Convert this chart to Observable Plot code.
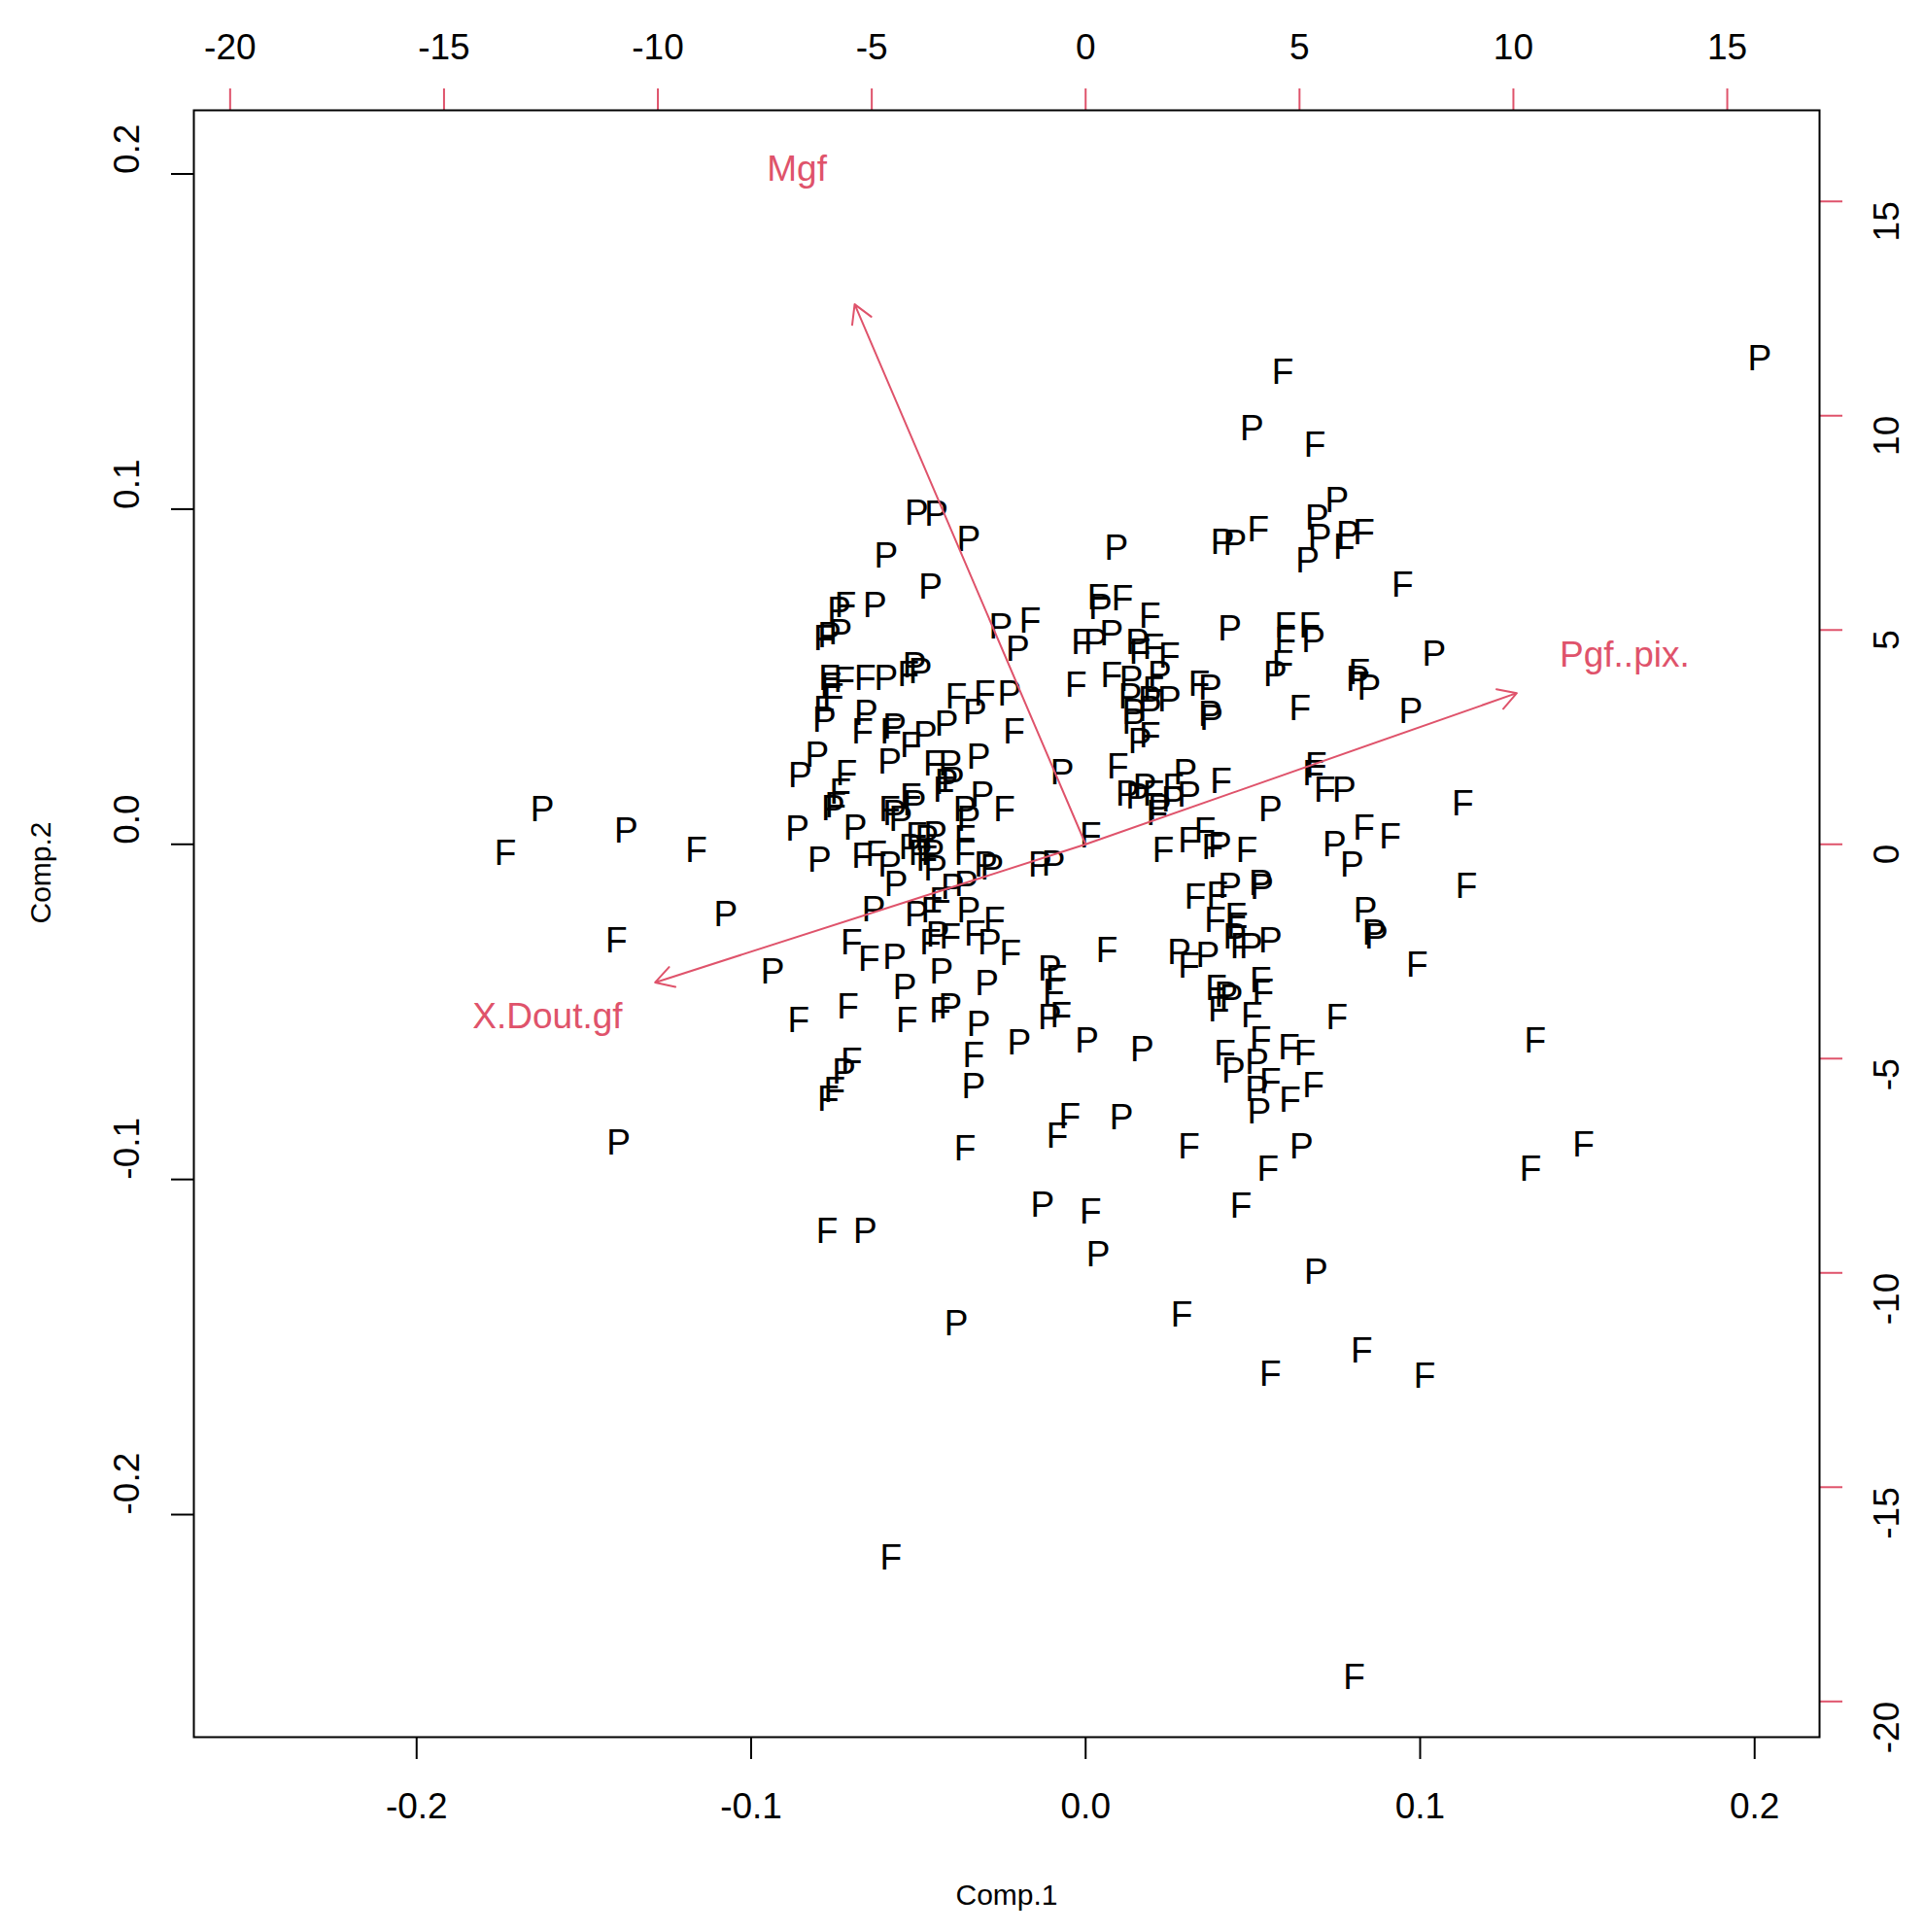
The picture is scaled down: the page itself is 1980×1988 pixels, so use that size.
<!DOCTYPE html>
<html><head><meta charset="utf-8">
<script src="https://cdn.jsdelivr.net/npm/d3@7"></script>
<script src="https://cdn.jsdelivr.net/npm/@observablehq/plot@0.6"></script>
<style>html,body{margin:0;padding:0;background:#fff} svg{display:block}</style>
</head><body><div id="chart"></div>
<script>
// Observation groups (letter drawn at each score)
const groups = ("FPPFPPPPPF" + "PPFPPFPPFF" + "FFFPFFPFPP" + "FPFFPPPFPP" + "FPFPPFPFPP" +
  "FFPPPPFPPP" + "FFPPPPPFPP" + "PFPFPPFFPP" + "PPFPFPFFPF" + "FPFFFPPPPP" +
  "FFFFPPFPFP" + "FFPPPFPPPF" + "FPFFPFPPPF" + "FFFFPPPPPF" + "PPPPFFPPPP" +
  "FFPFPPPFFP" + "PPFPFPFPPF" + "FFFPFFFPPP" + "FFFPPPFFPF" + "PFPPFFFFPF" +
  "FPFPPFFFFP" + "PPFFPFFPFF" + "FFPPPFFPPF" + "PPPPFFPFFF" + "PFPPFFFPFF" +
  "PPPFPFPFPF" + "PFPFPFPFFP" + "FPFFFFFFF").split("");

// Comp.1 scores
const comp1 = [
  0.0589, 0.2015, 0.0497, 0.0685, -0.0505, -0.0446, -0.0350, -0.0597, -0.0464, -0.0718,
  -0.0737, -0.0630, -0.0781, -0.0766, -0.0733, -0.0530, -0.0512, -0.0494, -0.0766, -0.0762,
  -0.0755, -0.0722, -0.0659, -0.0597, -0.0387, -0.0302, -0.0228, -0.0781, -0.0781, -0.0656,
  -0.0667, -0.0571, -0.0582, -0.0523, -0.0479, -0.0416, -0.0331, -0.0214, -0.0803, -0.0854,
  -0.0715, -0.0586, -0.0453, -0.0405, -0.0320, -0.0733, -0.0755, -0.0748, -0.0862, -0.0689,
  -0.0667, -0.0626, -0.0796, -0.0586, -0.0567, -0.0634, -0.0523, -0.0512, -0.0571, -0.0553,
  -0.0586, -0.0505, -0.0475, -0.0449, -0.0523, -0.0494, -0.0457, -0.0475, -0.0449, -0.0416,
  -0.0398, -0.0424, -0.0309, -0.0243, -0.0361, -0.0350, -0.0361, -0.0361, -0.0298, -0.0280,
  -0.0398, -0.0357, -0.0435, -0.0505, -0.0460, -0.0350, -0.0273, -0.0464, -0.0442, -0.0405,
  -0.0331, -0.0287, -0.0225, -0.0700, -0.0648, -0.0571, -0.0936, -0.0431, -0.0295, -0.0541,
  -0.0858, -0.0711, -0.0534, -0.0435, -0.0405, -0.0320, -0.0335, -0.0199, -0.0700, -0.0722,
  -0.0751, -0.0770, -0.0335, -0.0254, -0.0203, -0.0166, 0.0092, 0.0409, 0.0446, 0.0516,
  0.0037, 0.0044, 0.0110, 0.0192, 0.0431, -0.0011, 0.0029, 0.0077, 0.0155, 0.0162,
  0.0203, 0.0250, -0.0029, 0.0077, 0.0136, 0.0221, 0.0133, 0.0192, 0.0250, 0.0203,
  0.0144, 0.0192, 0.0144, 0.0162, 0.0192, 0.0339, 0.0372, 0.0372, 0.0376, 0.0567,
  0.0589, 0.0641, -0.0070, 0.0096, 0.0125, 0.0155, 0.0177, 0.0203, 0.0262, 0.0262,
  0.0309, 0.0221, 0.0214, 0.0298, 0.0405, 0.0552, 0.0015, -0.0136, -0.0096, 0.0232,
  0.0309, 0.0357, 0.0379, 0.0401, 0.0482, 0.0328, 0.0394, 0.0431, 0.0523, 0.0527,
  0.0387, 0.0449, 0.0453, 0.0446, 0.0494, 0.0552, 0.0464, 0.0063, 0.0280, 0.0309,
  0.0365, 0.0390, 0.0420, 0.0435, 0.0398, 0.0523, 0.0530, 0.0497, -0.0107, -0.0088,
  -0.0096, -0.0107, -0.0074, 0.0004, 0.0169, 0.0523, 0.0608, 0.0656, 0.0416, 0.0442,
  0.0512, 0.0512, 0.0552, 0.0611, 0.0519, 0.0681, 0.0309, 0.0645, 0.0545, 0.0464,
  0.0751, 0.0991, 0.0862, 0.0869, 0.0836, 0.1138, 0.1127, 0.1042, 0.0972, 0.0947,
  0.0751, 0.0692, 0.0700, 0.0785, 0.0832, 0.0773, 0.0663, 0.0597, 0.0597, 0.0670,
  0.0681, 0.0818, 0.0814, 0.0847, 0.0689, 0.0681, 0.0715, 0.0773, 0.0832, 0.0910,
  0.0744, 0.0796, -0.1624, -0.1735, -0.1374, -0.1164, -0.1076, -0.1403, -0.1396, -0.0773,
  -0.0659, -0.0582, -0.0387, -0.0361, -0.0129, 0.0015, 0.0037, -0.0048, -0.0085, 0.0107,
  0.0287, 0.0689, 0.0552, 0.0825, 0.1013, 0.0803, 0.1330, 0.1488, 0.1344
];

// Comp.2 scores
const comp2 = [
  0.1408, 0.1448, 0.1239, 0.1191, 0.0989, 0.0985, 0.0908, 0.0860, 0.0768, 0.0713,
  0.0699, 0.0713, 0.0614, 0.0621, 0.0632, 0.0507, 0.0533, 0.0515, 0.0496, 0.0471,
  0.0441, 0.0489, 0.0496, 0.0496, 0.0441, 0.0449, 0.0449, 0.0401, 0.0371, 0.0390,
  0.0335, 0.0349, 0.0335, 0.0294, 0.0327, 0.0357, 0.0393, 0.0335, 0.0265, 0.0206,
  0.0210, 0.0246, 0.0239, 0.0239, 0.0261, 0.0154, 0.0107, 0.0114, 0.0044, 0.0048,
  -0.0037, -0.0029, -0.0048, -0.0062, -0.0121, -0.0195, 0.0140, 0.0121, 0.0092, 0.0074,
  0.0103, 0.0026, 0.0015, 0.0029, -0.0011, -0.0026, -0.0026, -0.0044, -0.0074, 0.0184,
  0.0191, 0.0162, 0.0147, 0.0103, 0.0103, 0.0074, 0.0015, -0.0026, -0.0062, -0.0070,
  -0.0129, -0.0121, -0.0169, -0.0210, -0.0199, -0.0199, -0.0228, -0.0294, -0.0272, -0.0276,
  -0.0268, -0.0294, -0.0327, -0.0294, -0.0342, -0.0338, -0.0382, -0.0382, -0.0415, -0.0426,
  -0.0526, -0.0485, -0.0526, -0.0496, -0.0485, -0.0537, -0.0629, -0.0592, -0.0647, -0.0680,
  -0.0735, -0.0761, -0.0724, 0.0647, 0.0581, 0.0665, 0.0882, 0.0901, 0.0897, 0.0937,
  0.0735, 0.0706, 0.0732, 0.0680, 0.0643, 0.0603, 0.0603, 0.0629, 0.0603, 0.0574,
  0.0588, 0.0562, 0.0474, 0.0504, 0.0493, 0.0507, 0.0441, 0.0430, 0.0430, 0.0460,
  0.0393, 0.0401, 0.0364, 0.0305, 0.0324, 0.0478, 0.0467, 0.0386, 0.0375, 0.0507,
  0.0537, 0.0404, 0.0213, 0.0232, 0.0151, 0.0140, 0.0169, 0.0151, 0.0169, 0.0132,
  0.0147, 0.0110, 0.0092, 0.0213, 0.0187, 0.0103, 0.0026, -0.0062, -0.0059, -0.0018,
  0.0011, 0.0040, -0.0011, -0.0004, -0.0018, -0.0158, -0.0151, -0.0125, -0.0118, -0.0129,
  -0.0228, -0.0217, -0.0246, -0.0276, -0.0305, -0.0287, -0.0305, -0.0316, -0.0324, -0.0364,
  -0.0331, -0.0430, -0.0452, -0.0460, -0.0493, -0.0408, -0.0441, -0.0511, -0.0371, -0.0401,
  -0.0441, -0.0518, -0.0511, -0.0588, -0.0614, -0.0585, -0.0607, -0.0625, -0.0625, -0.0676,
  -0.0651, -0.0732, -0.0710, -0.0765, -0.0798, -0.0721, -0.0904, -0.0904, -0.0971, -0.1081,
  -0.0518, -0.0360, -0.0265, -0.0276, -0.0199, -0.0125, 0.0121, 0.0566, 0.0397, 0.0772,
  0.1026, 0.0974, 0.0915, 0.0923, 0.0930, 0.0886, 0.0846, 0.0651, 0.0607, 0.0651,
  0.0607, 0.0511, 0.0493, 0.0467, 0.0235, 0.0210, 0.0162, 0.0162, 0.0048, 0.0022,
  0.0000, -0.0062, 0.0103, -0.0026, 0.0040, -0.0018, -0.0210, -0.0287, -0.0890, -0.1154,
  -0.1154, -0.2129, -0.1430, -0.0908, -0.1077, -0.1096, -0.1224, -0.0812, -0.0871, -0.0816,
  -0.1404, -0.1276, -0.1581, -0.1511, -0.1588, -0.2485, -0.0971, -0.0897, -0.0588
];

// Variable loadings (in the top/right axis units)
const varNames = ["Mgf", "Pgf..pix.", "X.Dout.gf"];
const load1 = [-6.75, 12.6, -12.58];
const load2 = [15.75, 4.41, -4.03];
const loadingRatio = 78.2; // loading units per score unit

// Tick values
const scoreTicks = [-0.2, -0.1, 0.0, 0.1, 0.2];
const loadingTicks = [-20, -15, -10, -5, 0, 5, 10, 15];

const red = "#DF536B";
const n = Math.min(groups.length, comp1.length, comp2.length);
if (groups.length !== comp1.length || comp1.length !== comp2.length) console.error("length mismatch", groups.length, comp1.length, comp2.length);
const obs = d3.range(n).map(i => ({g: groups[i], c1: comp1[i], c2: comp2[i]}));
const vars = varNames.map((name, i) => ({name, l1: load1[i], l2: load2[i]}));
const fmt1 = d => d.toFixed(1);

const chart = Plot.plot({
  width: 1980, height: 1988,
  marginLeft: 199, marginRight: 108, marginTop: 113, marginBottom: 201,
  style: {fontFamily: "'Liberation Sans', Arial, Helvetica, sans-serif", fontSize: "37px", background: "white", color: "black", overflow: "visible"},
  x: {domain: [-0.2666, 0.2194], axis: null},
  y: {domain: [-0.2664, 0.2190], axis: null},
  marks: [
    // observation letters
    Plot.text(obs, {x: "c1", y: "c2", text: "g", fill: "black", fontSize: 37}),
    // ticks
    Plot.axisX({anchor: "bottom", ticks: scoreTicks, tickSize: 23, strokeWidth: 2, tickFormat: () => "", label: null}),
    Plot.axisY({anchor: "left", ticks: scoreTicks, tickSize: 23, strokeWidth: 2, tickFormat: () => "", label: null}),
    Plot.axisX({anchor: "top", ticks: loadingTicks.map(t => t / loadingRatio), tickSize: 23, stroke: red, strokeWidth: 2, tickFormat: () => "", label: null}),
    Plot.axisY({anchor: "right", ticks: loadingTicks.map(t => t / loadingRatio), tickSize: 23, stroke: red, strokeWidth: 2, tickFormat: () => "", label: null}),
    // tick labels
    Plot.text(scoreTicks, {x: d => d, frameAnchor: "bottom", dy: 83, text: fmt1, fontSize: 37}),
    Plot.text(scoreTicks, {y: d => d, frameAnchor: "left", dx: -68, rotate: -90, text: fmt1, fontSize: 37}),
    Plot.text(loadingTicks, {x: d => d / loadingRatio, frameAnchor: "top", dy: -79, text: d => String(d), fontSize: 37}),
    Plot.text(loadingTicks, {y: d => d / loadingRatio, frameAnchor: "right", dx: 70, rotate: -90, text: d => String(d), fontSize: 37}),
    // axis titles
    Plot.text(["Comp.1"], {frameAnchor: "bottom", dy: 172, text: d => d, fontSize: 30}),
    Plot.text(["Comp.2"], {frameAnchor: "left", dx: -157, rotate: -90, text: d => d, fontSize: 30}),
    // loading arrows and labels
    Plot.arrow(vars, {x1: 0, y1: 0, x2: d => 0.8 * d.l1 / loadingRatio, y2: d => 0.8 * d.l2 / loadingRatio,
      stroke: red, strokeWidth: 2, headLength: 16, headAngle: 60}),
    Plot.text(vars, {x: d => d.l1 / loadingRatio, y: d => d.l2 / loadingRatio, text: "name", fill: red, fontSize: 37}),
    Plot.frame({stroke: "black", strokeWidth: 2})
  ]
});
document.getElementById("chart").appendChild(chart);
</script>
</body></html>
